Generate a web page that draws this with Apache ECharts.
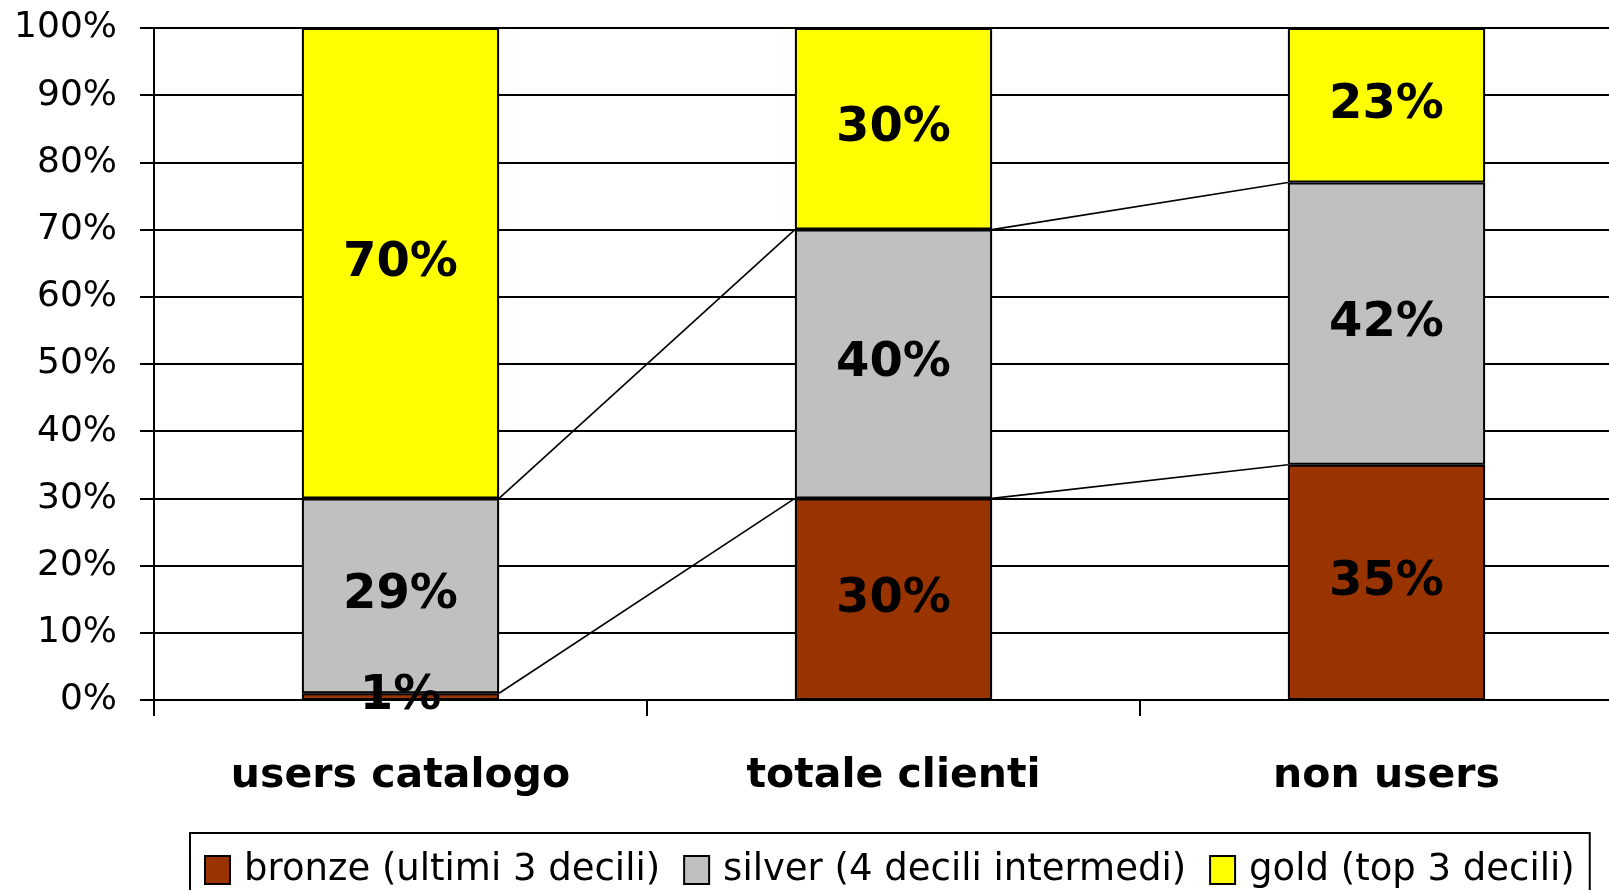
<!DOCTYPE html>
<html>
<head>
<meta charset="utf-8">
<script src="https://cdn.jsdelivr.net/npm/echarts@6/dist/echarts.min.js"></script>
<style>
  html, body { margin: 0; padding: 0; background: #fff; overflow: hidden; }
  #chart { width: 1609px; height: 890px; }
</style>
</head>
<body>
<div id="chart"></div>
<script>
// Customer segments by decile group
const categories = ['users catalogo', 'totale clienti', 'non users'];
const bronze = [1, 30, 35];
const silver = [29, 40, 42];
const gold = [70, 30, 23];
const seriesNames = ['bronze (ultimi 3 decili)', 'silver (4 decili intermedi)', 'gold (top 3 decili)'];
const colors = ['#993300', '#C0C0C0', '#FFFF00'];

// cumulative heights used by the connecting series lines
const topBronze = bronze.slice();
const topSilver = bronze.map((v, i) => v + silver[i]);

const font = 'DejaVu Sans';
const barWidthRatio = 0.4;

const chart = echarts.init(document.getElementById('chart'));

const barSeries = [bronze, silver, gold].map((vals, k) => ({
  name: seriesNames[k],
  type: 'bar',
  stack: 'total',
  barWidth: (barWidthRatio * 100) + '%',
  data: vals,
  itemStyle: { color: colors[k], borderColor: '#000', borderWidth: 2 },
  label: {
    show: true,
    position: 'inside',
    formatter: '{c}%',
    fontFamily: font,
    fontWeight: 'bold',
    fontSize: 48,
    color: '#000'
  },
  emphasis: { disabled: true }
}));

// thin lines joining segment tops between neighbouring bars
const seriesLines = {
  type: 'custom',
  silent: true,
  coordinateSystem: 'cartesian2d',
  data: categories.slice(0, -1).map((c, i) => [i, 0]),
  renderItem: function (params, api) {
    const i = api.value(0);
    const half = api.size([1, 0])[0] * barWidthRatio / 2;
    const children = [topBronze, topSilver].map(arr => {
      const p1 = api.coord([i, arr[i]]);
      const p2 = api.coord([i + 1, arr[i + 1]]);
      return {
        type: 'line',
        shape: { x1: p1[0] + half, y1: p1[1], x2: p2[0] - half, y2: p2[1] },
        style: { stroke: '#000', lineWidth: 1.6 }
      };
    });
    return { type: 'group', children: children };
  },
  z: 5
};

chart.setOption({
  animation: false,
  backgroundColor: '#fff',
  grid: { left: 154, top: 28, width: 1479, height: 672, containLabel: false, outerBoundsMode: 'none' },
  legend: {
    data: seriesNames,
    left: 190,
    top: 833,
    orient: 'horizontal',
    icon: 'rect',
    itemWidth: 25,
    itemHeight: 28,
    itemGap: 23,
    padding: [17, 15, 20, 14],
    borderColor: '#000',
    borderWidth: 2,
    textStyle: { fontFamily: font, fontSize: 37, color: '#000', lineHeight: 40, padding: [0, 0, 0, 9] }
  },
  xAxis: {
    type: 'category',
    data: categories,
    axisLine: { lineStyle: { color: '#000', width: 2 } },
    axisTick: { show: true, alignWithLabel: false, length: 16, lineStyle: { color: '#000', width: 2 } },
    axisLabel: { fontFamily: font, fontWeight: 'bold', fontSize: 41, color: '#000', margin: 56 }
  },
  yAxis: {
    type: 'value',
    min: 0,
    max: 100,
    interval: 10,
    axisLine: { show: true, lineStyle: { color: '#000', width: 2 } },
    axisTick: { show: true, length: 14, lineStyle: { color: '#000', width: 2 } },
    axisLabel: { formatter: '{value}%', fontFamily: font, fontSize: 36, color: '#000', margin: 37 },
    splitLine: { show: true, lineStyle: { color: '#000', width: 2 } }
  },
  series: barSeries.concat([seriesLines])
});
</script>
</body>
</html>
